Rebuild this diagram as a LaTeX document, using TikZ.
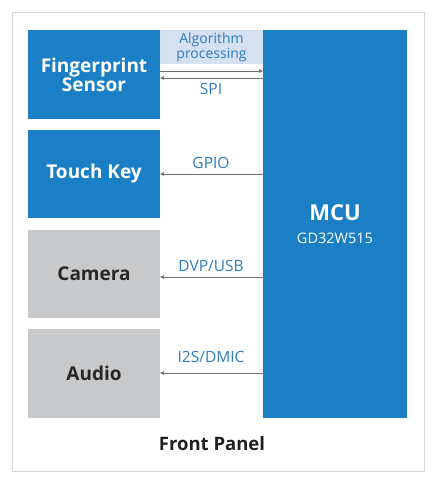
\documentclass[tikz,border=0pt]{standalone}
\usepackage{fontspec}
\setmainfont{Open Sans}
\usetikzlibrary{arrows.meta}
\definecolor{gdblue}{HTML}{1A7FC4}
\definecolor{algbg}{HTML}{D5E0F0}
\definecolor{boxgray}{HTML}{C8C9CB}
\definecolor{lblblue}{HTML}{2E7DBF}
\definecolor{framegray}{HTML}{D6D6D6}
\definecolor{linegray}{HTML}{707070}
\begin{document}
\begin{tikzpicture}[x=1pt,y=-1pt,
  blk/.style={anchor=north west,inner sep=0pt,outer sep=0pt,align=center,font=\bfseries\fontsize{19}{21}\selectfont},
  blueblk/.style={blk,fill=gdblue,text=white},
  grayblk/.style={blk,fill=boxgray,text=black!85},
  lbl/.style={text=lblblue,font=\fontsize{15.5}{17}\selectfont,inner sep=0pt},
  conn/.style={draw=linegray,line width=0.6pt,-{Triangle[length=4pt,width=3.5pt]}}]
\useasboundingbox (0,0) rectangle (436,480);
\node[draw=framegray,line width=1pt,anchor=north west,minimum width=412pt,minimum height=459pt,inner sep=0pt] (frame) at (12,12) {};
\node[blueblk,minimum width=132pt,minimum height=89pt] (fp) at (28,30) {Fingerprint\\[-2pt]Sensor};
\node[blueblk,minimum width=132pt,minimum height=88pt] (tk) at (28,130) {Touch Key};
\node[grayblk,minimum width=132pt,minimum height=88pt] (cam) at (28,230) {Camera};
\node[grayblk,minimum width=132pt,minimum height=89pt] (aud) at (28,329) {Audio};
\node[blk,fill=algbg,minimum width=103pt,minimum height=34pt,text=lblblue,font=\fontsize{14}{15}\selectfont] (alg) at (160,30) {Algorithm\\processing};
\node[blueblk,minimum width=144pt,minimum height=388pt] (mcu) at (263,30) {};
\node[text=white,font=\bfseries\fontsize{22}{24}\selectfont,inner sep=0pt] (mcut) at (335,213) {MCU};
\node[text=white,font=\fontsize{14.5}{16}\selectfont,inner sep=0pt] (mcus) at (335,238) {GD32W515};
\node[font=\bfseries\fontsize{18.5}{20}\selectfont,text=black!88,inner sep=0pt] (fpnl) at (212,444) {Front Panel};
\draw[conn] (fp.east |- 0,71) -- (mcu.west |- 0,71);
\draw[conn] (mcu.west |- 0,78) -- (fp.east |- 0,78);
\node[lbl] (spi) at (211,89) {SPI};
\draw[conn] (mcu.west |- 0,174) -- (tk.east |- 0,174);
\node[lbl] (gpio) at (211,163) {GPIO};
\draw[conn] (mcu.west |- 0,277) -- (cam.east |- 0,277);
\node[lbl] (dvp) at (211,266) {DVP/USB};
\draw[conn] (mcu.west |- 0,373) -- (aud.east |- 0,373);
\node[lbl] (i2s) at (211,357) {I2S/DMIC};
\end{tikzpicture}
\end{document}
